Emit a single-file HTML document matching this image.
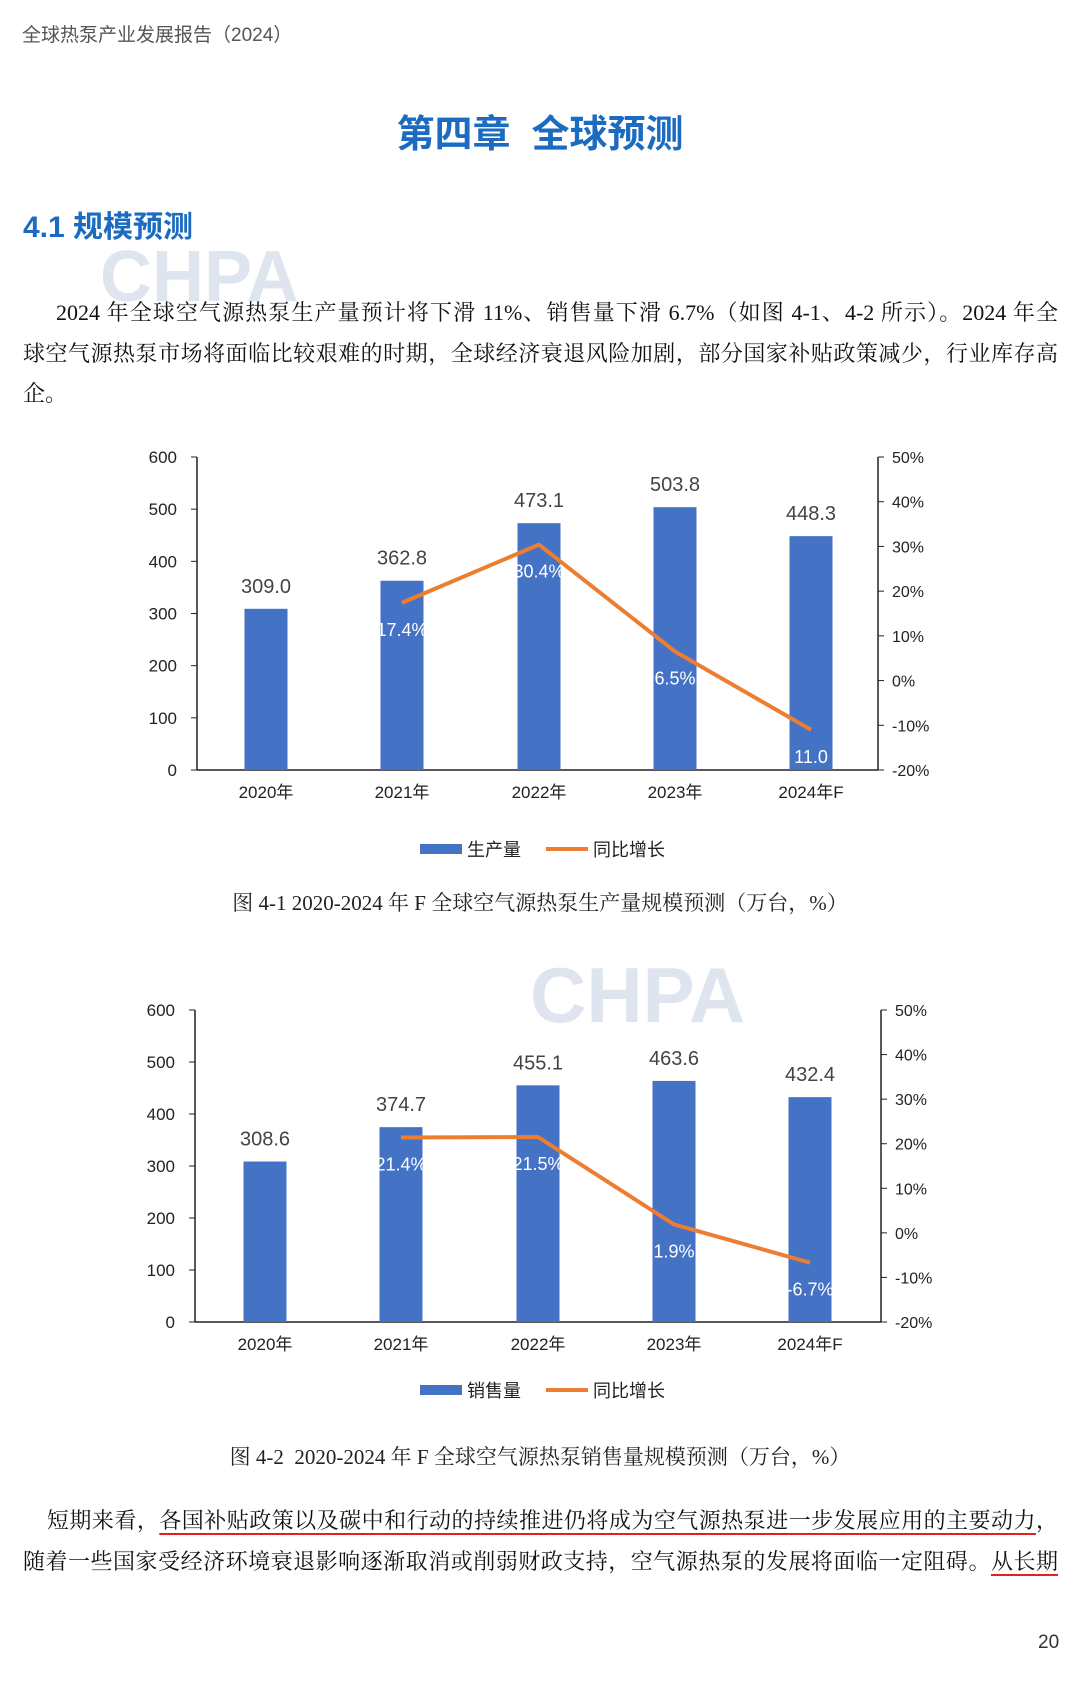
<!DOCTYPE html>
<html><head><meta charset="utf-8">
<style>
body{margin:0;background:#fff;}
#page{position:relative;width:1080px;height:1681px;overflow:hidden;background:#fff;font-family:"Liberation Serif","Noto Serif CJK SC",serif;}
.abs{position:absolute;white-space:nowrap;}
.p{position:absolute;left:23px;width:1035px;font-size:22px;color:#111;white-space:nowrap;text-align:justify;text-align-last:justify;}
.p.n{text-align-last:left;}
u{text-decoration-color:#d22;text-underline-offset:5px;}
</style></head><body><div id="page">
<div class="abs" style="left:22px;top:20px;font-size:19px;color:#555;font-family:'Liberation Sans','Noto Sans CJK SC',sans-serif;">全球热泵产业发展报告（2024）</div>
<div class="abs" style="left:0;width:1080px;text-align:center;top:103px;font-size:38px;font-weight:bold;color:#1b6cc0;font-family:'Liberation Sans','Noto Sans CJK SC',sans-serif;">第四章&nbsp; 全球预测</div>
<div class="abs" style="left:23px;top:202px;font-size:30px;font-weight:bold;color:#1b6cc0;font-family:'Liberation Sans','Noto Sans CJK SC',sans-serif;">4.1 规模预测</div>
<div class="abs" style="left:100px;top:236px;font-size:72px;font-weight:bold;color:#dfe5ee;font-family:'Liberation Sans',sans-serif;">CHPA</div>
<div class="p" style="top:296px;">&nbsp;&nbsp;&nbsp;&nbsp;&nbsp;2024 年全球空气源热泵生产量预计将下滑 11%、销售量下滑 6.7%（如图 4-1、4-2 所示）。2024 年全</div>
<div class="p" style="top:337px;">球空气源热泵市场将面临比较艰难的时期，全球经济衰退风险加剧，部分国家补贴政策减少，行业库存高</div>
<div class="p n" style="top:377px;">企。</div>
<div class="abs" style="left:530px;top:950px;font-size:78px;font-weight:bold;color:#dfe5ee;font-family:'Liberation Sans',sans-serif;">CHPA</div>
<svg id="svg" class="abs" style="left:0;top:0" width="1080" height="1681" font-family="'Liberation Sans','Noto Sans CJK SC',sans-serif"></svg>
<div class="abs" style="left:0;width:1080px;text-align:center;top:887px;font-size:21px;color:#222;">图 4-1 2020-2024 年 F 全球空气源热泵生产量规模预测（万台，%）</div>
<div class="abs" style="left:0;width:1080px;text-align:center;top:1441px;font-size:21px;color:#222;">图 4-2&nbsp; 2020-2024 年 F 全球空气源热泵销售量规模预测（万台，%）</div>
<div class="p" style="top:1504px;">&nbsp;&nbsp;&nbsp;&nbsp;短期来看，<u>各国补贴政策以及碳中和行动的持续推进仍将成为空气源热泵进一步发展应用的主要动力</u>，</div>
<div class="p" style="top:1545px;">随着一些国家受经济环境衰退影响逐渐取消或削弱财政支持，空气源热泵的发展将面临一定阻碍。<u>从长期</u></div>
<div class="abs" style="left:1038px;top:1632px;font-size:19px;color:#333;font-family:'Liberation Sans',sans-serif;">20</div>
</div>
<script>
function chart(o){
 let s='';const L=o.l,R=o.r,T=o.t,B=o.b,H=B-T;
 const cx=[266,402,539,675,811].map(x=>x+o.dx);
 s+=`<line x1="${L}" y1="${T}" x2="${L}" y2="${B}" stroke="#222" stroke-width="1.5"/>`;
 s+=`<line x1="${R}" y1="${T}" x2="${R}" y2="${B}" stroke="#222" stroke-width="1.5"/>`;
 s+=`<line x1="${L}" y1="${B}" x2="${R}" y2="${B}" stroke="#222" stroke-width="1.5"/>`;
 for(let i=0;i<=6;i++){let y=B-i*H/6;s+=`<line x1="${L-6}" y1="${y}" x2="${L}" y2="${y}" stroke="#222"/><text x="${L-20}" y="${y+6}" text-anchor="end" font-size="17" fill="#222">${i*100}</text>`;}
 for(let i=0;i<=7;i++){let y=B-i*H/7;s+=`<line x1="${R}" y1="${y}" x2="${R+6}" y2="${y}" stroke="#222"/><text x="${R+14}" y="${y+6}" font-size="16" fill="#222">${(i-2)*10}%</text>`;}
 const yv=v=>B-v/600*H, yp=p=>B-(p+20)/70*H;
 o.v.forEach((v,i)=>{s+=`<rect x="${cx[i]-21.5}" y="${yv(v)}" width="43" height="${B-yv(v)}" fill="#4472c4"/><text x="${cx[i]}" y="${yv(v)-16}" text-anchor="middle" font-size="20" fill="#444">${v.toFixed(1)}</text>`;
  s+=`<text x="${cx[i]}" y="${B+28}" text-anchor="middle" font-size="17" fill="#222">${2020+i}年${i==4?'F':''}</text>`;});
 let pts=o.p.map((p,i)=>`${cx[i+1]},${yp(p)}`).join(' ');
 s+=`<polyline points="${pts}" fill="none" stroke="#ed7d31" stroke-width="4" stroke-linejoin="round"/>`;
 o.p.forEach((p,i)=>{s+=`<text x="${cx[i+1]}" y="${Math.min(yp(p)+33,B-4)}" text-anchor="middle" font-size="18" fill="#fff">${o.pl[i]}</text>`;});
 const ly=o.ly;
 s+=`<rect x="420" y="${ly-5}" width="42" height="10" fill="#4472c4"/><text x="467" y="${ly+7}" font-size="18" fill="#222">${o.name}</text>`;
 s+=`<line x1="546" y1="${ly}" x2="588" y2="${ly}" stroke="#ed7d31" stroke-width="4"/><text x="593" y="${ly+7}" font-size="18" fill="#222">同比增长</text>`;
 return s;
}
document.getElementById('svg').innerHTML=
 chart({l:197,r:878,t:457,b:770,dx:0,v:[309,362.8,473.1,503.8,448.3],p:[17.4,30.4,6.5,-11],pl:['17.4%','30.4%','6.5%','11.0'],ly:849,name:'生产量'})+
 chart({l:195,r:881,t:1010,b:1322,dx:-1,v:[308.6,374.7,455.1,463.6,432.4],p:[21.4,21.5,1.9,-6.7],pl:['21.4%','21.5%','1.9%','-6.7%'],ly:1390,name:'销售量'});
</script>
</body></html>
